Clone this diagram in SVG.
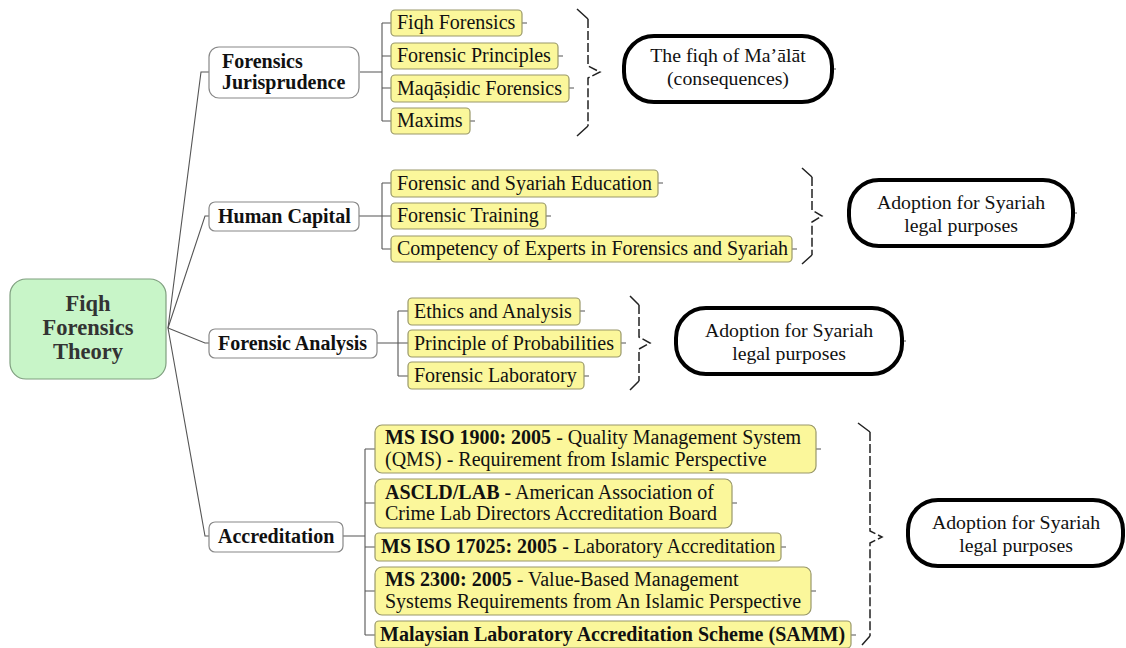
<svg xmlns="http://www.w3.org/2000/svg" width="1126" height="648" viewBox="0 0 1126 648">
  <style>
    text { font-family: "Liberation Serif", "Times New Roman", serif; font-size: 20px; fill: #111; }
    .b { font-weight: bold; }
    .root { fill: #c8f5c8; stroke: #7f9f7f; stroke-width: 1.2; }
    .rootText { font-size: 22.5px; font-weight: bold; fill: #333; text-anchor: middle; }
    .branch { fill: #fff; stroke: #888; stroke-width: 1.2; }
    .leaf { fill: #fbf79b; stroke: #99986a; stroke-width: 1.2; }
    .out { fill: #fff; stroke: #000; stroke-width: 4; }
    .mid { text-anchor: middle; font-size: 19.8px; }
    .conn { fill: none; stroke: #555; stroke-width: 1.1; }
    .brace { fill: none; stroke: #222; stroke-width: 1.5; stroke-dasharray: 9 3; }
    .braceEnd { fill: none; stroke: #222; stroke-width: 1.5; }
  </style>

  <!-- connectors -->
  <g id="connectors">
    <!-- root to branches -->
    <path class="conn" d="M168 328 L201 72 L209 72"/>
    <path class="conn" d="M168 328 L205 216 L209 216"/>
    <path class="conn" d="M168 328 L205 343 L209 343"/>
    <path class="conn" d="M168 328 L205 536 L209 536"/>
    <!-- Forensics Jurisprudence -->
    <path class="conn" d="M360 72 H382 M382 23 V121 M382 23 H391 M382 56 H391 M382 88 H391 M382 121 H391"/>
    <path class="conn" d="M522 23 h5 M558 56 h5 M569 88 h5 M470 121 h5"/>
    <!-- Human Capital -->
    <path class="conn" d="M359 216 H382 M382 183 V249 M382 183 H391 M382 216 H391 M382 249 H391"/>
    <path class="conn" d="M658 183 h5 M546 216 h5 M792 249 h5"/>
    <!-- Forensic Analysis -->
    <path class="conn" d="M377 343 H398 M398 311 V376 M398 311 H408 M398 343 H408 M398 376 H408"/>
    <path class="conn" d="M580 311 h5 M621 343 h5 M584 376 h5"/>
    <!-- Accreditation -->
    <path class="conn" d="M343 536 H365 M365 449 V635 M365 449 H375 M365 503 H375 M365 547 H375 M365 591 H375 M365 635 H375"/>
    <path class="conn" d="M816 449 h5 M732 503 h5 M781 547 h5 M811 591 h5 M851 635 h5"/>
    <!-- outcome stubs -->
    <path class="conn" d="M832 69 h4 M1073 213 h4 M902 341 h4"/>

    <!-- braces -->
    <path class="braceEnd" d="M577 9 L588 19 M588 126 L577 136"/>
    <path class="brace" d="M588 19 V66 L600 72 L588 78 V126"/>
    <path class="braceEnd" d="M802 168 L812 177 M812 255 L802 264"/>
    <path class="brace" d="M812 177 V210 L822 216 L812 222 V255"/>
    <path class="braceEnd" d="M630 296 L639 305 M639 381 L630 390"/>
    <path class="brace" d="M639 305 V337 L650 343 L639 349 V381"/>
    <path class="braceEnd" d="M858 423 L870 432 M870 636 L862 645"/>
    <path class="brace" d="M870 432 V531 L882 537 L870 543 V636"/>
  </g>

  <!-- root -->
  <g id="root">
    <rect class="root" x="10" y="279" width="156" height="100" rx="16"/>
    <text class="rootText" x="88" y="311">Fiqh</text>
    <text class="rootText" x="88" y="335">Forensics</text>
    <text class="rootText" x="88" y="359">Theory</text>
  </g>

  <!-- branches -->
  <g id="forensics-jurisprudence">
    <rect class="branch" x="209" y="47" width="150" height="51" rx="10"/>
    <text class="b" x="222" y="68">Forensics</text>
    <text class="b" x="222" y="89">Jurisprudence</text>
  </g>
  <g id="human-capital">
    <rect class="branch" x="209" y="202" width="150" height="29" rx="6"/>
    <text class="b" x="218" y="223">Human Capital</text>
  </g>
  <g id="forensic-analysis">
    <rect class="branch" x="209" y="329" width="168" height="29" rx="6"/>
    <text class="b" x="218" y="350">Forensic Analysis</text>
  </g>
  <g id="accreditation">
    <rect class="branch" x="209" y="522" width="134" height="30" rx="6"/>
    <text class="b" x="218" y="543">Accreditation</text>
  </g>

  <!-- Forensics Jurisprudence leaves -->
  <g id="fiqh-forensics">
    <rect class="leaf" x="391" y="10" width="131" height="26" rx="4"/>
    <text x="397" y="29">Fiqh Forensics</text>
  </g>
  <g id="forensic-principles">
    <rect class="leaf" x="391" y="43" width="167" height="26" rx="4"/>
    <text x="397" y="62">Forensic Principles</text>
  </g>
  <g id="maqasidic-forensics">
    <rect class="leaf" x="391" y="75" width="178" height="27" rx="4"/>
    <text x="397" y="95">Maqāṣidic Forensics</text>
  </g>
  <g id="maxims">
    <rect class="leaf" x="391" y="108" width="79" height="26" rx="4"/>
    <text x="397" y="127">Maxims</text>
  </g>

  <!-- Human Capital leaves -->
  <g id="education">
    <rect class="leaf" x="391" y="170" width="267" height="27" rx="4"/>
    <text x="397" y="190">Forensic and Syariah Education</text>
  </g>
  <g id="training">
    <rect class="leaf" x="391" y="203" width="155" height="26" rx="4"/>
    <text x="397" y="222">Forensic Training</text>
  </g>
  <g id="competency">
    <rect class="leaf" x="391" y="236" width="401" height="26" rx="4"/>
    <text x="397" y="255">Competency of Experts in Forensics and Syariah</text>
  </g>

  <!-- Forensic Analysis leaves -->
  <g id="ethics">
    <rect class="leaf" x="408" y="298" width="172" height="27" rx="4"/>
    <text x="414" y="318">Ethics and Analysis</text>
  </g>
  <g id="probabilities">
    <rect class="leaf" x="408" y="330" width="213" height="27" rx="4"/>
    <text x="414" y="350">Principle of Probabilities</text>
  </g>
  <g id="laboratory">
    <rect class="leaf" x="408" y="362" width="176" height="27" rx="4"/>
    <text x="414" y="382">Forensic Laboratory</text>
  </g>

  <!-- Accreditation leaves -->
  <g id="ms-iso-1900">
    <rect class="leaf" x="375" y="425" width="441" height="48" rx="7"/>
    <text x="385" y="444"><tspan class="b">MS ISO 1900: 2005</tspan> - Quality Management System</text>
    <text x="385" y="466">(QMS) - Requirement from Islamic Perspective</text>
  </g>
  <g id="ascld-lab">
    <rect class="leaf" x="375" y="479" width="357" height="49" rx="7"/>
    <text x="385" y="499"><tspan class="b">ASCLD/LAB</tspan> - American Association of</text>
    <text x="385" y="520">Crime Lab Directors Accreditation Board</text>
  </g>
  <g id="ms-iso-17025">
    <rect class="leaf" x="375" y="533" width="406" height="28" rx="4"/>
    <text x="381" y="553"><tspan class="b">MS ISO 17025: 2005</tspan> - Laboratory Accreditation</text>
  </g>
  <g id="ms-2300">
    <rect class="leaf" x="375" y="567" width="436" height="48" rx="7"/>
    <text x="385" y="586"><tspan class="b">MS 2300: 2005</tspan> - Value-Based Management</text>
    <text x="385" y="608">Systems Requirements from An Islamic Perspective</text>
  </g>
  <g id="samm">
    <rect class="leaf" x="375" y="621" width="476" height="27" rx="4"/>
    <text class="b" x="380" y="641">Malaysian Laboratory Accreditation Scheme (SAMM)</text>
  </g>

  <!-- outcomes -->
  <g id="outcome-maalat">
    <rect class="out" x="624" y="36" width="208" height="66" rx="30"/>
    <text class="mid" x="728" y="62">The fiqh of Ma’ālāt</text>
    <text class="mid" x="728" y="85">(consequences)</text>
  </g>
  <g id="outcome-human-capital">
    <rect class="out" x="849" y="180" width="224" height="66" rx="30"/>
    <text class="mid" x="961" y="209">Adoption for Syariah</text>
    <text class="mid" x="961" y="232">legal purposes</text>
  </g>
  <g id="outcome-analysis">
    <rect class="out" x="676" y="308" width="226" height="66" rx="30"/>
    <text class="mid" x="789" y="337">Adoption for Syariah</text>
    <text class="mid" x="789" y="360">legal purposes</text>
  </g>
  <g id="outcome-accreditation">
    <rect class="out" x="908" y="500" width="215" height="66" rx="30"/>
    <text class="mid" x="1016" y="529">Adoption for Syariah</text>
    <text class="mid" x="1016" y="552">legal purposes</text>
  </g>
</svg>
